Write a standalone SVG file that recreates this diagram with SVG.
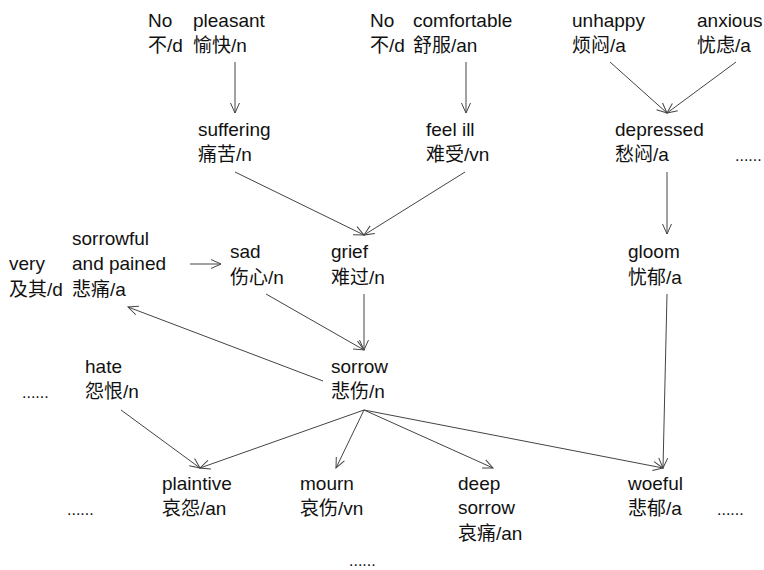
<svg xmlns="http://www.w3.org/2000/svg" width="764" height="570" viewBox="0 0 764 570">
  <style>
    text { font-family: "Liberation Sans", "Noto Sans CJK SC", sans-serif; font-size: 19px; fill: #111; }
    text.dots { font-size: 16px; }
    .edge { stroke: #444; stroke-width: 1; fill: none; }
  </style>
  <defs>
    <marker id="arrow" viewBox="0 0 12 12" refX="11" refY="6" markerWidth="12" markerHeight="12" markerUnits="userSpaceOnUse" orient="auto">
      <polyline points="1,1.5 11,6 1,10.5" fill="none" stroke="#444" stroke-width="1"/>
    </marker>
  </defs>
  <rect width="764" height="570" fill="#fff"/>

  <!-- connectors -->
  <g id="connectors">
    <line class="edge" x1="235" y1="62" x2="235" y2="113" marker-end="url(#arrow)"/>
    <line class="edge" x1="466" y1="62" x2="466" y2="113" marker-end="url(#arrow)"/>
    <line class="edge" x1="610" y1="62" x2="667" y2="113" marker-end="url(#arrow)"/>
    <line class="edge" x1="736" y1="62" x2="667" y2="113" marker-end="url(#arrow)"/>
    <line class="edge" x1="235" y1="172" x2="364" y2="235" marker-end="url(#arrow)"/>
    <line class="edge" x1="465" y1="172" x2="364" y2="235" marker-end="url(#arrow)"/>
    <line class="edge" x1="667" y1="172" x2="667" y2="234" marker-end="url(#arrow)"/>
    <line class="edge" x1="190" y1="264" x2="221" y2="264" marker-end="url(#arrow)"/>
    <line class="edge" x1="364" y1="294" x2="364" y2="350" marker-end="url(#arrow)"/>
    <line class="edge" x1="266" y1="294" x2="364" y2="350" marker-end="url(#arrow)"/>
    <line class="edge" x1="323" y1="381" x2="128" y2="307" marker-end="url(#arrow)"/>
    <line class="edge" x1="121" y1="410" x2="200" y2="468" marker-end="url(#arrow)"/>
    <line class="edge" x1="364" y1="410" x2="200" y2="468" marker-end="url(#arrow)"/>
    <line class="edge" x1="364" y1="410" x2="336" y2="468" marker-end="url(#arrow)"/>
    <line class="edge" x1="364" y1="410" x2="493" y2="468" marker-end="url(#arrow)"/>
    <line class="edge" x1="364" y1="410" x2="663" y2="468" marker-end="url(#arrow)"/>
    <line class="edge" x1="667" y1="294" x2="663" y2="468" marker-end="url(#arrow)"/>
  </g>

  <!-- nodes -->
  <g id="no-pleasant">
    <text x="148" y="27">No</text>
    <text x="148" y="52">不/d</text>
    <text x="193" y="27">pleasant</text>
    <text x="193" y="52">愉快/n</text>
  </g>
  <g id="no-comfortable">
    <text x="370" y="27">No</text>
    <text x="370" y="52">不/d</text>
    <text x="413" y="27">comfortable</text>
    <text x="413" y="52">舒服/an</text>
  </g>
  <g id="unhappy">
    <text x="572" y="27">unhappy</text>
    <text x="572" y="52">烦闷/a</text>
  </g>
  <g id="anxious">
    <text x="697" y="27">anxious</text>
    <text x="697" y="52">忧虑/a</text>
  </g>
  <g id="suffering">
    <text x="198" y="136">suffering</text>
    <text x="198" y="161">痛苦/n</text>
  </g>
  <g id="feel-ill">
    <text x="426" y="136">feel ill</text>
    <text x="426" y="161">难受/vn</text>
  </g>
  <g id="depressed">
    <text x="615" y="136">depressed</text>
    <text x="615" y="161">愁闷/a</text>
  </g>
  <g id="more-top">
    <text class="dots" x="735" y="161">......</text>
  </g>
  <g id="very-sorrowful">
    <text x="9" y="270">very</text>
    <text x="9" y="296">及其/d</text>
    <text x="72" y="245">sorrowful</text>
    <text x="72" y="270">and pained</text>
    <text x="72" y="296">悲痛/a</text>
  </g>
  <g id="sad">
    <text x="230" y="258">sad</text>
    <text x="230" y="284">伤心/n</text>
  </g>
  <g id="grief">
    <text x="331" y="258">grief</text>
    <text x="331" y="284">难过/n</text>
  </g>
  <g id="gloom">
    <text x="628" y="258">gloom</text>
    <text x="628" y="284">忧郁/a</text>
  </g>
  <g id="more-left">
    <text class="dots" x="22" y="398">......</text>
  </g>
  <g id="hate">
    <text x="85" y="373">hate</text>
    <text x="85" y="398">怨恨/n</text>
  </g>
  <g id="sorrow">
    <text x="331" y="373">sorrow</text>
    <text x="331" y="398">悲伤/n</text>
  </g>
  <g id="more-bottom-left">
    <text class="dots" x="67" y="515">......</text>
  </g>
  <g id="plaintive">
    <text x="162" y="490">plaintive</text>
    <text x="162" y="515">哀怨/an</text>
  </g>
  <g id="mourn">
    <text x="300" y="490">mourn</text>
    <text x="300" y="515">哀伤/vn</text>
  </g>
  <g id="more-bottom">
    <text class="dots" x="349" y="566">......</text>
  </g>
  <g id="deep-sorrow">
    <text x="458" y="490">deep</text>
    <text x="458" y="514">sorrow</text>
    <text x="458" y="540">哀痛/an</text>
  </g>
  <g id="woeful">
    <text x="628" y="490">woeful</text>
    <text x="628" y="515">悲郁/a</text>
  </g>
  <g id="more-bottom-right">
    <text class="dots" x="717" y="515">......</text>
  </g>
</svg>
